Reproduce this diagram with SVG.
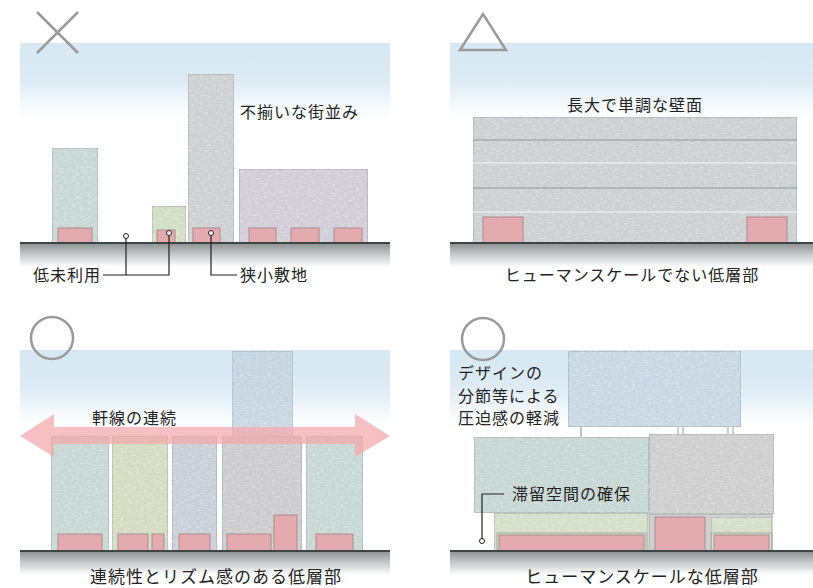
<svg xmlns="http://www.w3.org/2000/svg" width="813" height="588" viewBox="0 0 813 588">
  <defs>
    <linearGradient id="sky" x1="0" y1="0" x2="0" y2="1">
      <stop offset="0" stop-color="#d6e8f3"/>
      <stop offset="0.18" stop-color="#dcebf4"/>
      <stop offset="0.37" stop-color="#ffffff"/>
      <stop offset="1" stop-color="#ffffff"/>
    </linearGradient>
    <linearGradient id="ground" x1="0" y1="0" x2="0" y2="1">
      <stop offset="0" stop-color="#8c9092"/>
      <stop offset="0.5" stop-color="#c9cbcc"/>
      <stop offset="1" stop-color="#ffffff"/>
    </linearGradient>
    <!-- faint watercolour grain for the building faces -->
    <filter id="wash" x="0" y="0" width="100%" height="100%">
      <feTurbulence type="fractalNoise" baseFrequency="0.25 0.6" numOctaves="2" seed="7" result="n"/>
      <feColorMatrix in="n" type="matrix" values="0 0 0 0 1  0 0 0 0 1  0 0 0 0 1  0 0 0 0.7 -0.33" result="w"/>
      <feComposite in="w" in2="SourceGraphic" operator="atop"/>
    </filter>
    <style>
      .mark { fill: none; stroke: #9a9a9a; stroke-width: 2.5; }
      .bld { stroke: #a0a6a7; stroke-width: 1; filter: url(#wash); }
      .door { fill: #e3aab0; stroke: #aa8c8f; stroke-width: 1; }
      .gline { stroke: #3e4444; stroke-width: 2; }
      .lead { fill: none; stroke: #222; stroke-width: 1.2; }
      .dot { fill: #fff; stroke: #222; stroke-width: 1; }
      .lbl { font-family: "Noto Sans CJK JP", "Noto Sans", sans-serif; font-size: 16px; fill: #222; letter-spacing: 1px; }
      .mid { text-anchor: middle; }
    </style>
  </defs>

  <rect width="813" height="588" fill="#ffffff"/>

  <!-- backdrops: sky and ground strips for the four panels -->
  <g id="backdrops">
    <rect x="20" y="43" width="370" height="200" fill="url(#sky)"/>
    <rect x="450" y="43" width="363" height="200" fill="url(#sky)"/>
    <rect x="20" y="350" width="370" height="201" fill="url(#sky)"/>
    <rect x="450" y="350" width="363" height="201" fill="url(#sky)"/>
    <rect x="20" y="243" width="370" height="24" fill="url(#ground)"/>
    <rect x="450" y="243" width="363" height="24" fill="url(#ground)"/>
    <rect x="20" y="551" width="370" height="24" fill="url(#ground)"/>
    <rect x="450" y="551" width="363" height="24" fill="url(#ground)"/>
  </g>

  <!-- panel 1: uneven streetscape -->
  <g id="mark-cross">
    <line class="mark" x1="37" y1="12" x2="78" y2="53"/>
    <line class="mark" x1="78" y1="12" x2="37" y2="53"/>
  </g>
  <g id="p1-building-a">
    <rect class="bld" x="52" y="148" width="46" height="95" fill="#c9d8d5"/>
    <rect class="door" x="58" y="228" width="34" height="15"/>
  </g>
  <g id="p1-building-b">
    <rect class="bld" x="152" y="206" width="34" height="37" fill="#d4dec6"/>
    <rect class="door" x="157" y="230" width="18" height="13"/>
  </g>
  <g id="p1-building-c">
    <rect class="bld" x="188" y="74" width="46" height="169" fill="#cfd0d1"/>
    <rect class="door" x="193" y="228" width="27" height="15"/>
  </g>
  <g id="p1-building-d">
    <rect class="bld" x="239" y="169" width="129" height="74" fill="#d2ced7"/>
    <rect class="door" x="249" y="228" width="27" height="15"/>
    <rect class="door" x="291" y="228" width="28" height="15"/>
    <rect class="door" x="334" y="228" width="28" height="15"/>
  </g>
  <line class="gline" x1="20" y1="243" x2="390" y2="243"/>

  <!-- panel 2: long monotonous wall -->
  <g id="mark-triangle">
    <polygon class="mark" points="460,50 506,50 483,14"/>
  </g>
  <g id="p2-building">
    <rect class="bld" x="473" y="117" width="324" height="126" fill="#cdd1d4"/>
    <line x1="473" y1="140" x2="797" y2="140" stroke="#8f9599" stroke-width="1.2"/>
    <line x1="473" y1="163" x2="797" y2="163" stroke="#e8eaec" stroke-width="1.5"/>
    <line x1="473" y1="188" x2="797" y2="188" stroke="#8f9599" stroke-width="1.2"/>
    <line x1="473" y1="212" x2="797" y2="212" stroke="#e8eaec" stroke-width="1.5"/>
    <rect class="door" x="483" y="217" width="40" height="26"/>
    <rect class="door" x="747" y="217" width="40" height="26"/>
  </g>
  <line class="gline" x1="450" y1="243" x2="813" y2="243"/>

  <!-- panel 3: continuous eave line -->
  <g id="mark-circle-3">
    <circle class="mark" cx="52" cy="338" r="21"/>
  </g>
  <g id="p3-tower">
    <rect class="bld" x="232" y="351" width="61" height="86" fill="#c2d2df" opacity="0.85"/>
  </g>
  <g id="p3-building-1">
    <rect class="bld" x="51" y="436" width="58" height="115" fill="#c9d8d5"/>
    <rect class="door" x="58" y="534" width="44" height="17"/>
  </g>
  <g id="p3-building-2">
    <rect class="bld" x="112" y="436" width="56" height="115" fill="#d5dcc4"/>
    <rect class="door" x="118" y="534" width="30" height="17"/>
    <rect class="door" x="152" y="534" width="12" height="17"/>
  </g>
  <g id="p3-building-3">
    <rect class="bld" x="172" y="436" width="45" height="115" fill="#cad0d8"/>
    <rect class="door" x="179" y="534" width="31" height="17"/>
  </g>
  <g id="p3-building-4">
    <rect class="bld" x="222" y="436" width="80" height="115" fill="#cdcdcf"/>
    <rect class="door" x="227" y="534" width="44" height="17"/>
    <rect class="door" x="274" y="515" width="23" height="36"/>
  </g>
  <g id="p3-building-5">
    <rect class="bld" x="306" y="436" width="57" height="115" fill="#c9d8d5"/>
    <rect class="door" x="316" y="534" width="37" height="17"/>
  </g>
  <g id="p3-eave-arrow">
    <polygon points="20,436 54,414 54,427 355,427 355,414 390,436 355,457 355,444 54,444 54,457" fill="#f2a7ab" opacity="0.72"/>
  </g>
  <line class="gline" x1="20" y1="551" x2="390" y2="551"/>

  <!-- panel 4: articulated massing with human-scale base -->
  <g id="mark-circle-4">
    <circle class="mark" cx="483" cy="339" r="21"/>
  </g>
  <g id="p4-upper">
    <line x1="581" y1="427" x2="581" y2="437" stroke="#a8acae" stroke-width="1.5"/>
    <line x1="678" y1="427" x2="678" y2="434" stroke="#a8acae" stroke-width="1.2"/>
    <line x1="683" y1="427" x2="683" y2="434" stroke="#a8acae" stroke-width="1.2"/>
    <line x1="728" y1="427" x2="728" y2="434" stroke="#a8acae" stroke-width="1.2"/>
    <line x1="733" y1="427" x2="733" y2="434" stroke="#a8acae" stroke-width="1.2"/>
    <rect class="bld" x="568" y="351" width="173" height="76" fill="#c8d8e4"/>
  </g>
  <g id="p4-base-left">
    <rect class="bld" x="494" y="513" width="154" height="38" fill="#d5dfc9"/>
    <rect x="497" y="533" width="149" height="18" fill="none" stroke="#a3a8a9" stroke-width="1"/>
    <rect class="door" x="499" y="535" width="145" height="16" fill="#e2aaa9"/>
  </g>
  <g id="p4-base-right">
    <rect x="649" y="514" width="123" height="37" fill="#cfd1d1" stroke="#a3a8a9" stroke-width="1"/>
    <rect class="door" x="655" y="517" width="50" height="34" fill="#e2aaa9"/>
    <rect class="bld" x="711" y="517" width="61" height="34" fill="#d5dfc9"/>
    <rect x="711" y="533" width="61" height="18" fill="none" stroke="#a3a8a9" stroke-width="1"/>
    <rect class="door" x="714" y="535" width="55" height="16" fill="#e2aaa9"/>
  </g>
  <g id="p4-mid-left">
    <rect class="bld" x="474" y="437" width="175" height="76" fill="#c8d7d4"/>
  </g>
  <g id="p4-mid-right">
    <rect class="bld" x="649" y="434" width="125" height="80" fill="#cfcfd0"/>
  </g>
  <line class="gline" x1="450" y1="551" x2="813" y2="551"/>

  <!-- leader lines -->
  <g id="connectors">
    <polyline class="lead" points="126,236 126,275 103,275"/>
    <polyline class="lead" points="169,233 169,275 126,275"/>
    <polyline class="lead" points="211,235 211,275 237,275"/>
    <polyline class="lead" points="482,541 482,494 504,494"/>
    <circle class="dot" cx="126" cy="236" r="2.5"/>
    <circle class="dot" cx="169" cy="233" r="2.5"/>
    <circle class="dot" cx="211" cy="233" r="2.5"/>
    <circle class="dot" cx="482" cy="541" r="2.5"/>
  </g>

  <!-- labels -->
  <g id="labels">
    <text class="lbl" x="240" y="118">不揃いな街並み</text>
    <text class="lbl" x="33" y="281">低未利用</text>
    <text class="lbl" x="240" y="281">狭小敷地</text>
    <text class="lbl mid" x="635" y="111">長大で単調な壁面</text>
    <text class="lbl mid" x="632" y="281">ヒューマンスケールでない低層部</text>
    <text class="lbl" x="92" y="424">軒線の連続</text>
    <text class="lbl mid" x="216" y="583" style="font-size:17px">連続性とリズム感のある低層部</text>
    <text class="lbl" x="458" y="379">デザインの</text>
    <text class="lbl" x="458" y="402">分節等による</text>
    <text class="lbl" x="458" y="424">圧迫感の軽減</text>
    <text class="lbl" x="512" y="500">滞留空間の確保</text>
    <text class="lbl mid" x="642" y="583" style="font-size:17px">ヒューマンスケールな低層部</text>
  </g>
</svg>
